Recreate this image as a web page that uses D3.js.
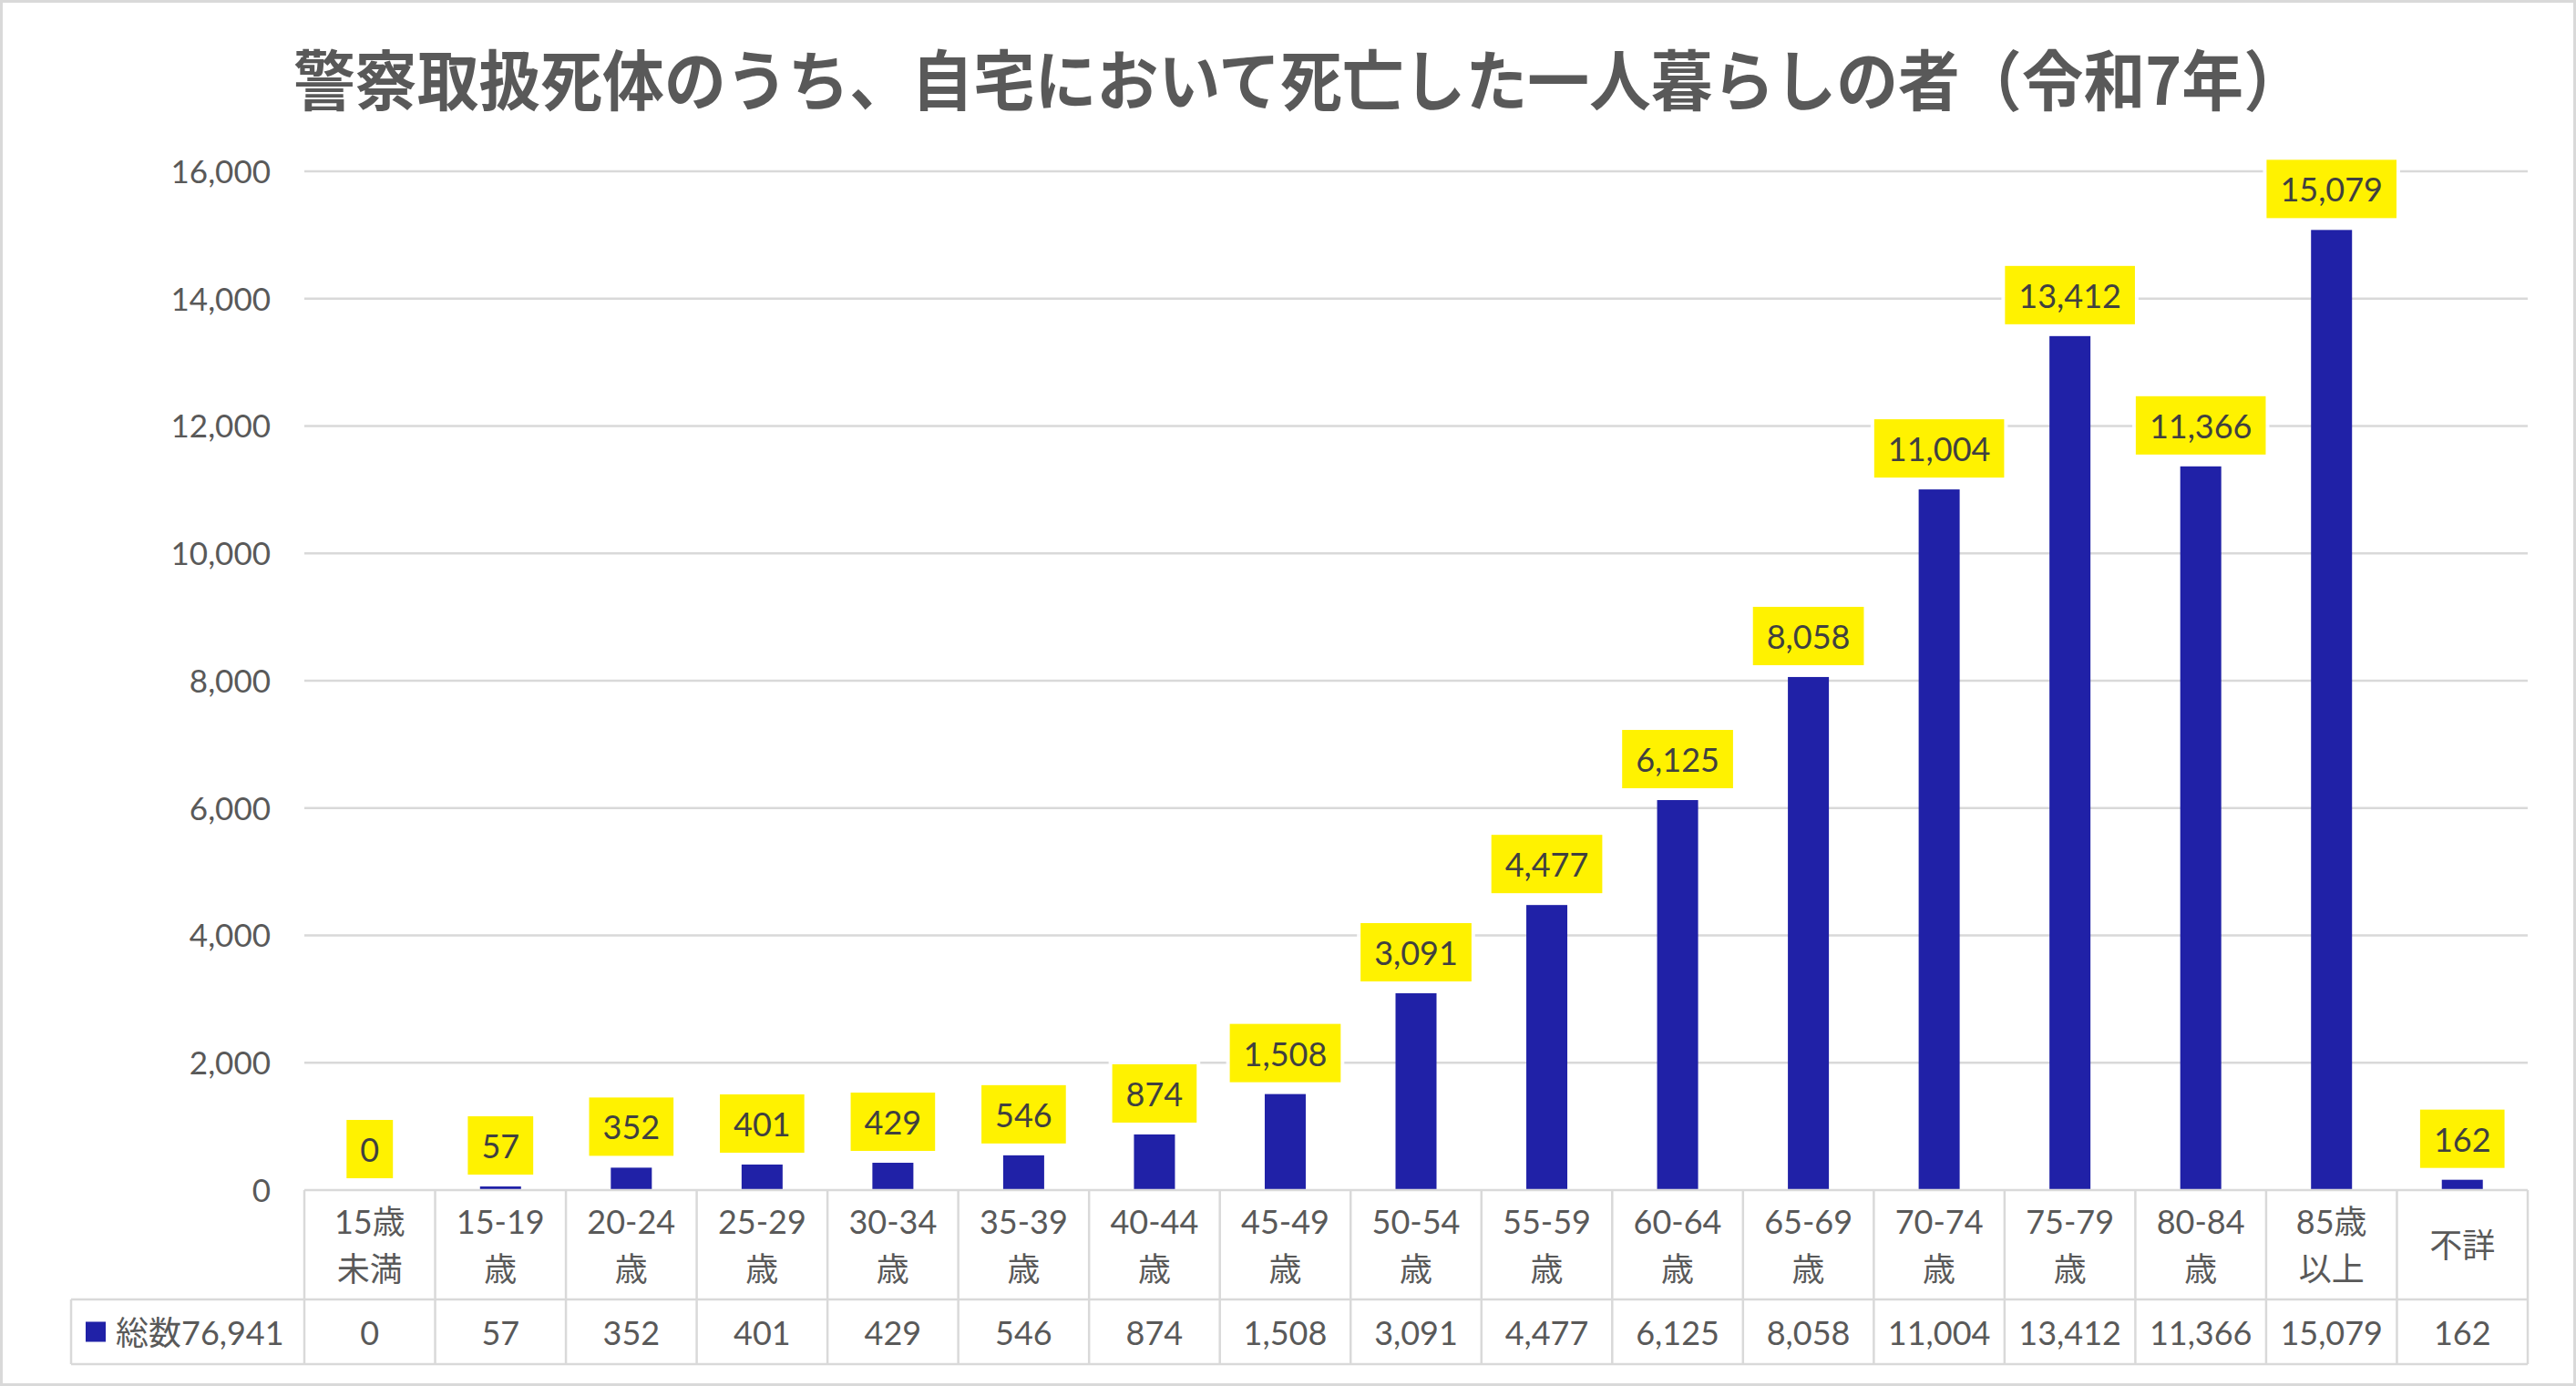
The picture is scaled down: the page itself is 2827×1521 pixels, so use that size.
<!DOCTYPE html>
<html><head><meta charset="utf-8">
<script src="https://cdn.jsdelivr.net/npm/d3@7"></script>
<style>
html,body{margin:0;padding:0;background:#fff;}
svg{display:block;}
</style></head>
<body>
<script>
const titleText = "警察取扱死体のうち、自宅において死亡した一人暮らしの者（令和7年）";
const categories = ["15歳未満","15-19歳","20-24歳","25-29歳","30-34歳","35-39歳","40-44歳","45-49歳","50-54歳","55-59歳","60-64歳","65-69歳","70-74歳","75-79歳","80-84歳","85歳以上","不詳"];
const values = [0,57,352,401,429,546,874,1508,3091,4477,6125,8058,11004,13412,11366,15079,162];
const seriesName = "総数76,941";
const yTicks = [0,2000,4000,6000,8000,10000,12000,14000,16000];

const W = 2827, H = 1521;
const plotLeft = 334, plotRight = 2774, plotTop = 188, plotBottom = 1306;
const row1Bottom = 1426, row2Bottom = 1497, legendLeft = 78;
const gridColor = "#d9d9d9", textColor = "#595959";
const barColor = "#2021a7", boxColor = "#fff200", labelColor = "#404040";
const font = "Lato, 'Noto Sans CJK JP', sans-serif";

const svg = d3.select("body").append("svg").attr("width", W).attr("height", H);
svg.append("rect").attr("x",1.5).attr("y",1.5).attr("width",W-3).attr("height",H-3)
  .attr("fill","#fff").attr("stroke",gridColor).attr("stroke-width",3);

// title
svg.append("text").attr("x", 1426).attr("y", 83)
  .attr("text-anchor","middle").attr("dominant-baseline","central")
  .attr("font-family","'Noto Sans CJK JP', sans-serif").attr("font-weight",700)
  .attr("font-size",72).attr("fill",textColor)
  .attr("textLength",2208).attr("lengthAdjust","spacingAndGlyphs")
  .text(titleText);

const x = d3.scaleBand().domain(categories).range([plotLeft, plotRight])
  .paddingInner(1 - 45/((plotRight-plotLeft)/categories.length))
  .paddingOuter((1 - 45/((plotRight-plotLeft)/categories.length))/2);
const y = d3.scaleLinear().domain([0,16000]).range([plotBottom, plotTop]);
const fmt = d3.format(",");

// gridlines
svg.append("g").selectAll("line").data(yTicks.filter(d=>d>0)).join("line")
  .attr("x1",plotLeft).attr("x2",plotRight)
  .attr("y1",d=>y(d)).attr("y2",d=>y(d))
  .attr("stroke",gridColor).attr("stroke-width",2.5);

// y axis labels
const yAxis = d3.axisLeft(y).tickValues(yTicks).tickFormat(fmt).tickSize(0).tickPadding(0);
const ya = svg.append("g").attr("transform",`translate(297,0)`).call(yAxis);
ya.select(".domain").remove();
ya.selectAll("text").attr("font-family",font).attr("font-size",35).attr("fill",textColor).attr("dy","0.35em");

// bars
svg.append("g").selectAll("rect").data(values).join("rect")
  .attr("x",(d,i)=>x(categories[i])).attr("width",x.bandwidth())
  .attr("y",d=>y(d)).attr("height",d=>plotBottom-y(d))
  .attr("fill",barColor);

// data labels
const lg = svg.append("g");
values.forEach((v,i)=>{
  const cx = x(categories[i]) + x.bandwidth()/2;
  const boxBottom = y(v) - 13, boxH = 64;
  const g = lg.append("g");
  const halo = g.append("rect");
  const box = g.append("rect");
  const t = g.append("text").attr("x",cx).attr("y",boxBottom-boxH/2)
    .attr("text-anchor","middle").attr("dominant-baseline","central")
    .attr("font-family",font).attr("font-size",36).attr("fill",labelColor).text(fmt(v));
  const tw = t.node().getComputedTextLength();
  const bw = tw + 30;
  halo.attr("x",cx-bw/2-4).attr("y",boxBottom-boxH-4).attr("width",bw+8).attr("height",boxH+8).attr("fill","#fff").attr("opacity",0.9);
  box.attr("x",cx-bw/2).attr("y",boxBottom-boxH).attr("width",bw).attr("height",boxH).attr("fill",boxColor);
});

// data table
const step = x.step();
const tg = svg.append("g");
const bounds = d3.range(categories.length+1).map(i=>plotLeft + i*step);
tg.selectAll("line.v").data(bounds).join("line")
  .attr("x1",d=>d).attr("x2",d=>d).attr("y1",plotBottom).attr("y2",row2Bottom)
  .attr("stroke",gridColor).attr("stroke-width",2.5);
tg.append("line").attr("x1",plotLeft).attr("x2",plotRight).attr("y1",plotBottom).attr("y2",plotBottom).attr("stroke",gridColor).attr("stroke-width",2.5);
[row1Bottom,row2Bottom].forEach(yy=>{
  tg.append("line").attr("x1",legendLeft).attr("x2",plotRight).attr("y1",yy).attr("y2",yy).attr("stroke",gridColor).attr("stroke-width",2.5);
});
tg.append("line").attr("x1",legendLeft).attr("x2",legendLeft).attr("y1",row1Bottom).attr("y2",row2Bottom).attr("stroke",gridColor).attr("stroke-width",2.5);

function splitLabel(s){
  const k = s.indexOf("歳");
  if (k < 0) return [s];
  if (k < s.length-1) return [s.slice(0,k+1), s.slice(k+1)];
  if (s.includes("-")) return [s.slice(0,k), s.slice(k)];
  return [s];
}
const rowMid = (plotBottom+row1Bottom)/2;
categories.forEach((c,i)=>{
  const cx = x(c) + x.bandwidth()/2;
  const lines = splitLabel(c);
  const t = tg.append("text").attr("text-anchor","middle").attr("font-family",font)
    .attr("font-size",36).attr("fill",textColor);
  lines.forEach((ln,j)=>{
    t.append("tspan").attr("x",cx).attr("y",rowMid + (j-(lines.length-1)/2)*52)
      .attr("dominant-baseline","central").text(ln);
  });
});
const valMid = (row1Bottom+row2Bottom)/2;
tg.selectAll("text.val").data(values).join("text").attr("class","val")
  .attr("x",(d,i)=>x(categories[i])+x.bandwidth()/2).attr("y",valMid)
  .attr("text-anchor","middle").attr("dominant-baseline","central")
  .attr("font-family",font).attr("font-size",36).attr("fill",textColor).text(d=>fmt(d));

// legend in table
tg.append("rect").attr("x",94).attr("y",valMid-11).attr("width",22).attr("height",22).attr("fill",barColor);
tg.append("text").attr("x",127).attr("y",valMid).attr("dominant-baseline","central")
  .attr("font-family",font).attr("font-size",36).attr("fill",textColor).text(seriesName);
</script>
</body></html>
